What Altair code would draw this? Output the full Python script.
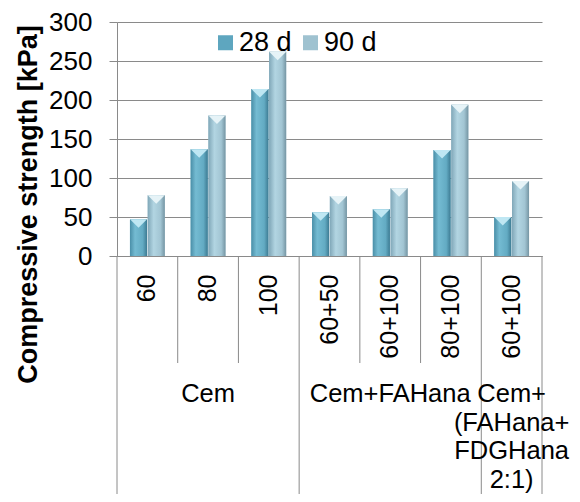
import altair as alt
import pandas as pd

# ---- data ----
groups = ["Cem", "Cem", "Cem", "Cem+FAHana", "Cem+FAHana", "Cem+FAHana",
          "Cem+(FAHana+FDGHana 2:1)"]
mixes = ["60", "80", "100", "60+50", "60+100", "80+100", "60+100"]
d28 = [47, 137, 214, 56, 60, 136, 50]
d90 = [78, 180, 262, 77, 87, 194, 96]
series = ["28 d", "90 d"]
group_names = ["Cem", "Cem+FAHana", "Cem+(FAHana+FDGHana 2:1)"]
group_texts = ["Cem", "Cem+FAHana", "Cem+\n(FAHana+\nFDGHana\n2:1)"]
y_ticks = [0, 50, 100, 150, 200, 250, 300]

keys = [f"{g}|{m}" for g, m in zip(groups, mixes)]

bars = pd.DataFrame({
    "key": keys * 2,
    "series": [series[0]] * len(keys) + [series[1]] * len(keys),
    "value": d28 + d90,
})

first_flags = [i == 0 or groups[i] != groups[i - 1] for i in range(len(keys))]
inner_df = pd.DataFrame({"key": [k for k, f in zip(keys, first_flags) if not f]})
group_df = pd.DataFrame({"key": [k for k, f in zip(keys, first_flags) if f]})
end_df = pd.DataFrame({"key": [keys[-1]]})

mid_keys = []
for g in group_names:
    ks = [k for k, gg in zip(keys, groups) if gg == g]
    mid_keys.append(ks[len(ks) // 2])
glabel_df = pd.DataFrame({"key": mid_keys, "text": group_texts})

# ---- styles ----
GRAY = "#8a8a8a"
FONT = "Liberation Sans"

xscale = alt.Scale(domain=keys, paddingInner=0, paddingOuter=0)
xaxis = alt.Axis(title=None, labelExpr="split(datum.label, '|')[1]", labelAngle=270,
                 labelFontSize=25, labelPadding=18, ticks=False, tickSize=0,
                 domainColor=GRAY, domainWidth=1, grid=False, labelColor="black")
yscale = alt.Scale(domain=[0, 300], nice=False, zero=True)
yaxis = alt.Axis(values=y_ticks, grid=True, gridColor=GRAY, gridWidth=1,
                 domainColor=GRAY, tickColor=GRAY, tickSize=8, labelPadding=17,
                 labelFontSize=26, labelColor="black",
                 title="Compressive strength [kPa]", titleFontSize=27,
                 titleFontWeight="bold", titleColor="black", titleAngle=270,
                 titleX=-89, titleY=182, titleAlign="center", titleBaseline="middle")
offscale = alt.Scale(domain=series, paddingOuter=0.73, paddingInner=0.04)

def X(band=None):
    if band is None:
        return alt.X("key:N", scale=xscale, axis=xaxis)
    return alt.X("key:N", scale=xscale, axis=xaxis, bandPosition=band)

Y = alt.Y("value:Q", scale=yscale, axis=yaxis)
XO = alt.XOffset("series:N", scale=offscale)

def grad(stops):
    return alt.LinearGradient(gradient="linear", x1=0, y1=0, x2=1, y2=0,
                              stops=[alt.GradientStop(offset=o, color=c) for o, c in stops])

grad28 = grad([(0, "#4a8fa8"), (0.3, "#74bbd2"), (0.75, "#63abc3"), (1, "#3d7b93")])
grad90 = grad([(0, "#80a7b8"), (0.35, "#b2d5e2"), (0.75, "#a2c5d3"), (1, "#7595a3")])

base = alt.Chart(bars).mark_bar().encode(
    x=X(), xOffset=XO, y=Y,
    color=alt.Color("series:N", scale=alt.Scale(domain=series, range=["#5ea6bf", "#9fc2d0"]),
                    legend=alt.Legend(orient="none", legendX=95, legendY=7,
                                      direction="horizontal", title=None,
                                      symbolType="square", symbolSize=225,
                                      symbolStrokeWidth=0,
                                      labelFontSize=27, labelColor="black",
                                      labelOffset=0, columnPadding=5, padding=0)),
)

b28 = alt.Chart(bars).transform_filter(alt.datum.series == series[0]).mark_bar(
    fill=grad28).encode(x=X(), xOffset=XO, y=Y)
b90 = alt.Chart(bars).transform_filter(alt.datum.series == series[1]).mark_bar(
    fill=grad90).encode(x=X(), xOffset=XO, y=Y)

caps = alt.Chart(bars).mark_point(shape="M-1,0L1,0L0,1Z", filled=True, size=289,
                                  opacity=1, strokeWidth=0).encode(
    x=X(), xOffset=XO, y=Y,
    fill=alt.condition(alt.datum.series == series[0], alt.value("#bfe7f3"), alt.value("#e6f3f7")),
)

inner_rules = alt.Chart(inner_df).mark_rule(color=GRAY, strokeWidth=1).encode(
    x=X(0), y=alt.value(234), y2=alt.value(341))
group_rules = alt.Chart(group_df).mark_rule(color=GRAY, strokeWidth=1).encode(
    x=X(0), y=alt.value(234), y2=alt.value(480))
end_rules = alt.Chart(end_df).mark_rule(color=GRAY, strokeWidth=1).encode(
    x=X(1), y=alt.value(234), y2=alt.value(480))

glabels = alt.Chart(glabel_df).mark_text(align="center", baseline="alphabetic",
                                         fontSize=25.5, lineBreak="\n", lineHeight=28.5,
                                         color="black").encode(
    x=X(), y=alt.value(380), text="text:N")

chart = alt.layer(base, b28, b90, caps, inner_rules, group_rules, end_rules, glabels).properties(
    width=425, height=234,
    autosize=alt.AutoSizeParams(type="none"),
    padding={"left": 109, "top": 14, "right": 30, "bottom": 238},
    background="white",
).configure(font=FONT).configure_view(stroke=None)

chart.save("out.html", embed_options={"renderer": "svg", "actions": False})
